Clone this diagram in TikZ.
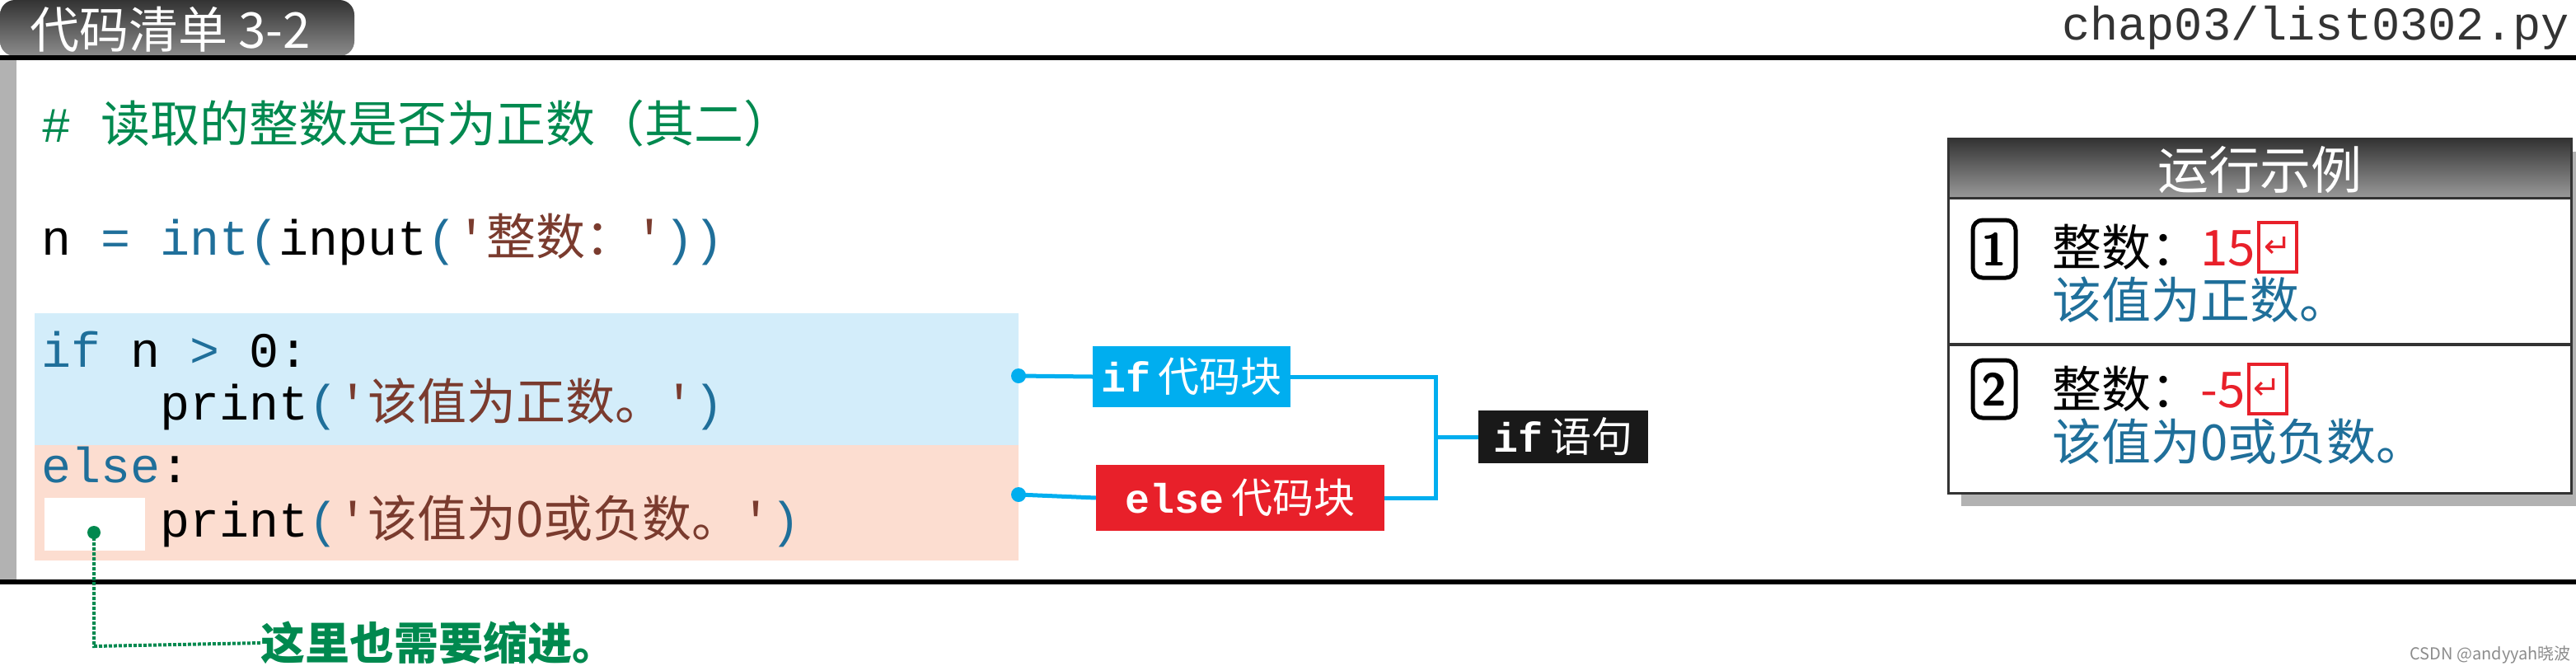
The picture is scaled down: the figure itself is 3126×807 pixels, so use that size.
\documentclass[tikz,border=0pt]{standalone}
\usepackage{fontspec}
\setmainfont{Noto Sans CJK SC}
\setmonofont{Liberation Mono}
\newfontfamily\cjk{Noto Sans CJK SC}
\newfontfamily\djfont{DejaVu Sans}
\definecolor{cgreen}{HTML}{00894F}
\definecolor{kblue}{HTML}{1F6F9A}
\definecolor{sbrown}{HTML}{7A3B2E}
\definecolor{bfill}{HTML}{D3EDFA}
\definecolor{pfill}{HTML}{FCDDD0}
\definecolor{cyanl}{HTML}{00AEEF}
\definecolor{rred}{HTML}{E8202A}
\tikzset{
 code/.style={anchor=west,inner sep=0pt,font=\fontsize{60}{60}\ttfamily},
 lbl/.style={inner sep=0pt,text=white,font=\fontsize{50}{50}\selectfont},
 conn/.style={cyanl,line width=5pt},
 runtxt/.style={anchor=west,inner sep=0pt,font=\fontsize{60}{60}\cjk},
 cnum/.style={draw=black,line width=5pt,rounded corners=12pt,minimum width=52pt,minimum height=70pt,inner sep=0pt,font=\fontsize{56}{56}\bfseries\sffamily},
 retk/.style={draw=rred,line width=4pt,minimum width=46pt,minimum height=60pt,inner sep=0pt,text=rred,font=\fontsize{40}{40}\djfont}
}
\begin{document}
\begin{tikzpicture}[x=1pt,y=-1pt]
\useasboundingbox (0,0) rectangle (3126,807);
% title tab
\shade[top color=black!80,bottom color=black!45,rounded corners=18pt] (0,68) -- (0,0) -- (430,0) -- (430,68) -- cycle;
\node[anchor=west,inner sep=0pt,text=white,font=\fontsize{60}{60}\cjk] (title) at (36,36) {代码清单 3-2};
\node[anchor=east,inner sep=0pt,text=black!80,font=\fontsize{57}{57}\ttfamily] (fname) at (3118,34) {chap03/list0302.py};
\fill[black] (0,67) rectangle (3126,73);
\fill[black!30] (0,73) rectangle (20,703);
\fill[black] (0,703) rectangle (3126,709);
% code
\node[code,text=cgreen] (cm) at (50,150) {\#\ {\cjk 读取的整数是否为正数（其二）}};
\node[code] (l1) at (50,290) {n \textcolor{kblue}{= int(}input\textcolor{kblue}{(}\textcolor{sbrown}{'{\cjk 整数：}'}\textcolor{kblue}{))}};
\fill[bfill] (42,380) rectangle (1236,540);
\fill[pfill] (42,540) rectangle (1236,680);
\node[code] (l2) at (50,424) {\textcolor{kblue}{if} n \textcolor{kblue}{>} 0:};
\node[code] (l3) at (194,490) {print\textcolor{kblue}{(}\textcolor{sbrown}{'{\cjk 该值为正数。}'}\textcolor{kblue}{)}};
\node[code] (l4) at (50,564) {\textcolor{kblue}{else}:};
\fill[white] (54,604) rectangle (176,668);
\node[code] (l5) at (194,632) {print\textcolor{kblue}{(}\textcolor{sbrown}{'{\cjk 该值为0或负数。}'}\textcolor{kblue}{)}};
% indent note
\coordinate (dot) at (114,646);
\coordinate (bend) at (114,784);
\node[anchor=west,inner sep=0pt,text=cgreen,font=\fontsize{54}{54}\cjk\bfseries] (note) at (316,780) {这里也需要缩进。};
\draw[cgreen,line width=4pt,dotted] (dot) -- (bend) -- (note.west);
\fill[cgreen] (dot) circle (8);
% labels
\coordinate (d1) at (1236,456);
\coordinate (d2) at (1236,600);
\node[lbl,fill=cyanl,minimum width=240pt,minimum height=74pt] (ifb) at (1446,457) {{\ttfamily\bfseries if}\,代码块};
\node[lbl,fill=rred,minimum width=350pt,minimum height=80pt] (elb) at (1505,604) {{\ttfamily\bfseries else}\,代码块};
\node[lbl,fill=black!90,minimum width=206pt,minimum height=64pt] (ifs) at (1897,530) {{\ttfamily\bfseries if}\,语句};
\coordinate (jx) at (1742,530);
\draw[conn] (d1) -- (ifb.west);
\draw[conn] (d2) -- (elb.west);
\draw[conn] (ifb.east) -| (jx);
\draw[conn] (elb.east) -| (jx);
\draw[conn] (jx) -- (ifs.west);
\fill[cyanl] (d1) circle (9);
\fill[cyanl] (d2) circle (9);
% run example
\fill[black!30] (2380,184) rectangle (3136,614);
\fill[white,draw=black!80,line width=3pt] (2364,240) rectangle (3120,598);
\shade[top color=black!80,bottom color=black!40,draw=black!80,line width=3pt] (2364,168) rectangle (3120,240);
\node[inner sep=0pt,text=white,font=\fontsize{62}{62}\cjk] (rh) at (2742,206) {运行示例};
\draw[black!80,line width=4pt] (2364,418) -- (3120,418);
\node[cnum] (n1) at (2420,302) {1};
\node[runtxt] (r1) at (2490,300) {整数：\textcolor{rred}{15}};
\node[retk,anchor=west] (k1) at ([xshift=2pt]r1.east) {↵};
\node[runtxt,text=kblue] (r2) at (2490,364) {该值为正数。};
\node[cnum] (n2) at (2420,472) {2};
\node[runtxt] (r3) at (2490,472) {整数：\textcolor{rred}{-5}};
\node[retk,anchor=west] (k2) at ([xshift=2pt]r3.east) {↵};
\node[runtxt,text=kblue] (r4) at (2490,536) {该值为0或负数。};
\node[anchor=east,inner sep=0pt,text=black!45,font=\fontsize{20}{20}\cjk] (wm) at (3120,794) {CSDN @andyyah晓波};
\end{tikzpicture}
\end{document}
